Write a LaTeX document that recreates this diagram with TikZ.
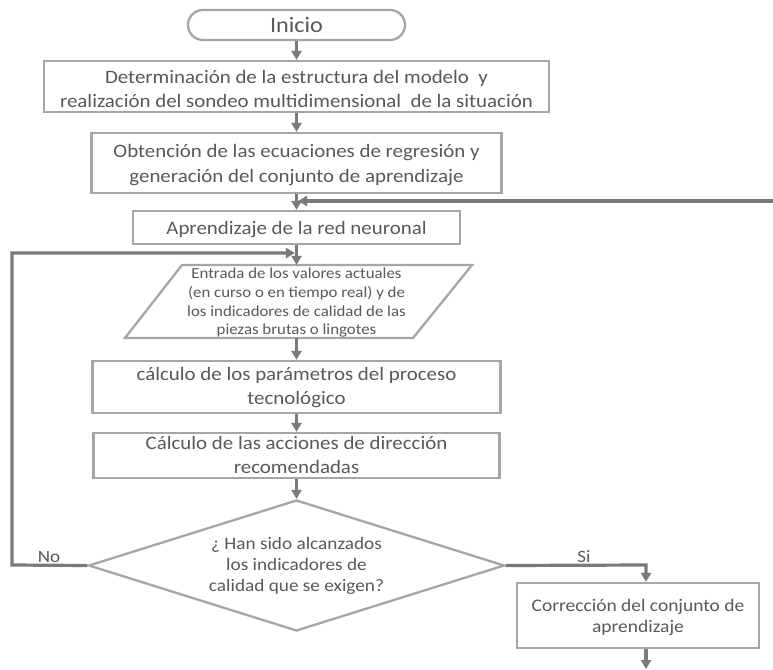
\documentclass[tikz,border=0pt]{standalone}
\usepackage{fontspec}
\setmainfont{Carlito}[FakeStretch=1.1]
\usetikzlibrary{shapes.geometric,arrows.meta}
\definecolor{boxgray}{HTML}{A6A6A6}
\definecolor{linegray}{HTML}{7A7A7A}
\definecolor{txtgray}{HTML}{595959}
\newcommand{\tp}[1]{\rule{0pt}{#1pt}}
\newcommand{\bt}[1]{\rule[-#1pt]{0pt}{#1pt}}
\begin{document}
\begin{tikzpicture}[x=1pt,y=-1pt,
  box/.style={draw=boxgray, line width=2.3pt, fill=white, text=txtgray, align=center,
    inner sep=0pt, font=\fontsize{19}{24}\selectfont},
  conn/.style={draw=linegray, line width=3.2pt, line join=miter,
    -{Triangle[length=9pt,width=10pt]}},
  lbl/.style={text=txtgray, font=\fontsize{17.3}{20}\selectfont, inner sep=0pt, anchor=base}]
\useasboundingbox (0,0) rectangle (773,669);

% nodes
\node[box, rounded corners=15pt, minimum width=217pt, minimum height=30pt,
      font=\fontsize{22}{24}\selectfont] (start) at (296.5,25) {\tp{19}Inicio\bt{3}};
\node[box, minimum width=505pt, minimum height=51pt] (b1) at (296.5,86.5)
  {\tp{20.8}Determinación de la estructura del modelo\ \ y\\realización del sondeo multidimensional\ \ de la situación\bt{3}};
\node[box, minimum width=410pt, minimum height=60pt, font=\fontsize{19}{25}\selectfont] (b2) at (296.5,163)
  {\tp{18.8}Obtención de las ecuaciones de regresión y\\generación del conjunto de aprendizaje\bt{5}};
\node[box, minimum width=327pt, minimum height=33pt] (b3) at (296.5,227.5)
  {\tp{18.8}Aprendizaje de la red neuronal\bt{5}};

% parallelogram
\draw[draw=boxgray, line width=2.3pt, fill=white, line join=miter]
  (182,265) -- (472,265) -- (413,338) -- (125,338) -- cycle;
\node[text=txtgray, align=center, inner sep=0pt, minimum width=233pt, minimum height=73pt,
      font=\fontsize{15.3}{18.7}\selectfont] (para) at (296.5,301.5)
  {\tp{13.3}Entrada de los valores actuales\\(en curso o en tiempo real) y de\\los indicadores de calidad de las\\piezas brutas o lingotes\bt{3}};

\node[box, minimum width=408pt, minimum height=52pt] (b4) at (296.5,387)
  {\tp{15.8}cálculo de los parámetros del proceso\\tecnológico\bt{5}};
\node[box, minimum width=406pt, minimum height=45pt] (b5) at (296.5,455.5)
  {\tp{13.3}Cálculo de las acciones de dirección\\recomendadas\bt{1.5}};
\node[box, diamond, aspect=3.18, minimum width=416pt, minimum height=131pt,
      font=\fontsize{17.5}{21}\selectfont] (dec) at (296.5,565.5)
  {\tp{13.2}¿ Han sido alcanzados\\los indicadores de\\calidad que se exigen?\bt{4}};
\node[box, minimum width=242pt, minimum height=65pt, font=\fontsize{17.7}{21}\selectfont]
  (b6) at (638,615.5) {\tp{17.2}Corrección del conjunto de\\aprendizaje\bt{5}};

% coordinates for free ends and bends
\coordinate (fb) at (773,201);
\coordinate (nl) at (12,565);
\coordinate (lt) at (12,253);
\coordinate (si) at (646,565);
\coordinate (out) at (646,669);

% connectors
\draw[conn] (start.south) -- (b1.north);
\draw[conn] (b1.south) -- (b2.north);
\draw[conn] (b2.south) -- (b3.north);
\draw[conn, shorten >=1.6pt] (fb) -- (fb -| b3.north);
\draw[conn] (b3.south) -- (para.north);
\draw[conn, shorten >=1.6pt] (dec.west) -- (nl) -- (lt) -- (lt -| para.north);
\draw[conn] (para.south) -- (b4.north);
\draw[conn] (b4.south) -- (b5.north);
\draw[conn] (b5.south) -- (dec.north);
\draw[conn] (dec.east) -- (si) -- (si |- b6.north);
\draw[conn] (si |- b6.south) -- (out);

% labels
\node[lbl] (no) at (49,562.5) {No};
\node[lbl] (yes) at (584,562.5) {Si};
\end{tikzpicture}
\end{document}
